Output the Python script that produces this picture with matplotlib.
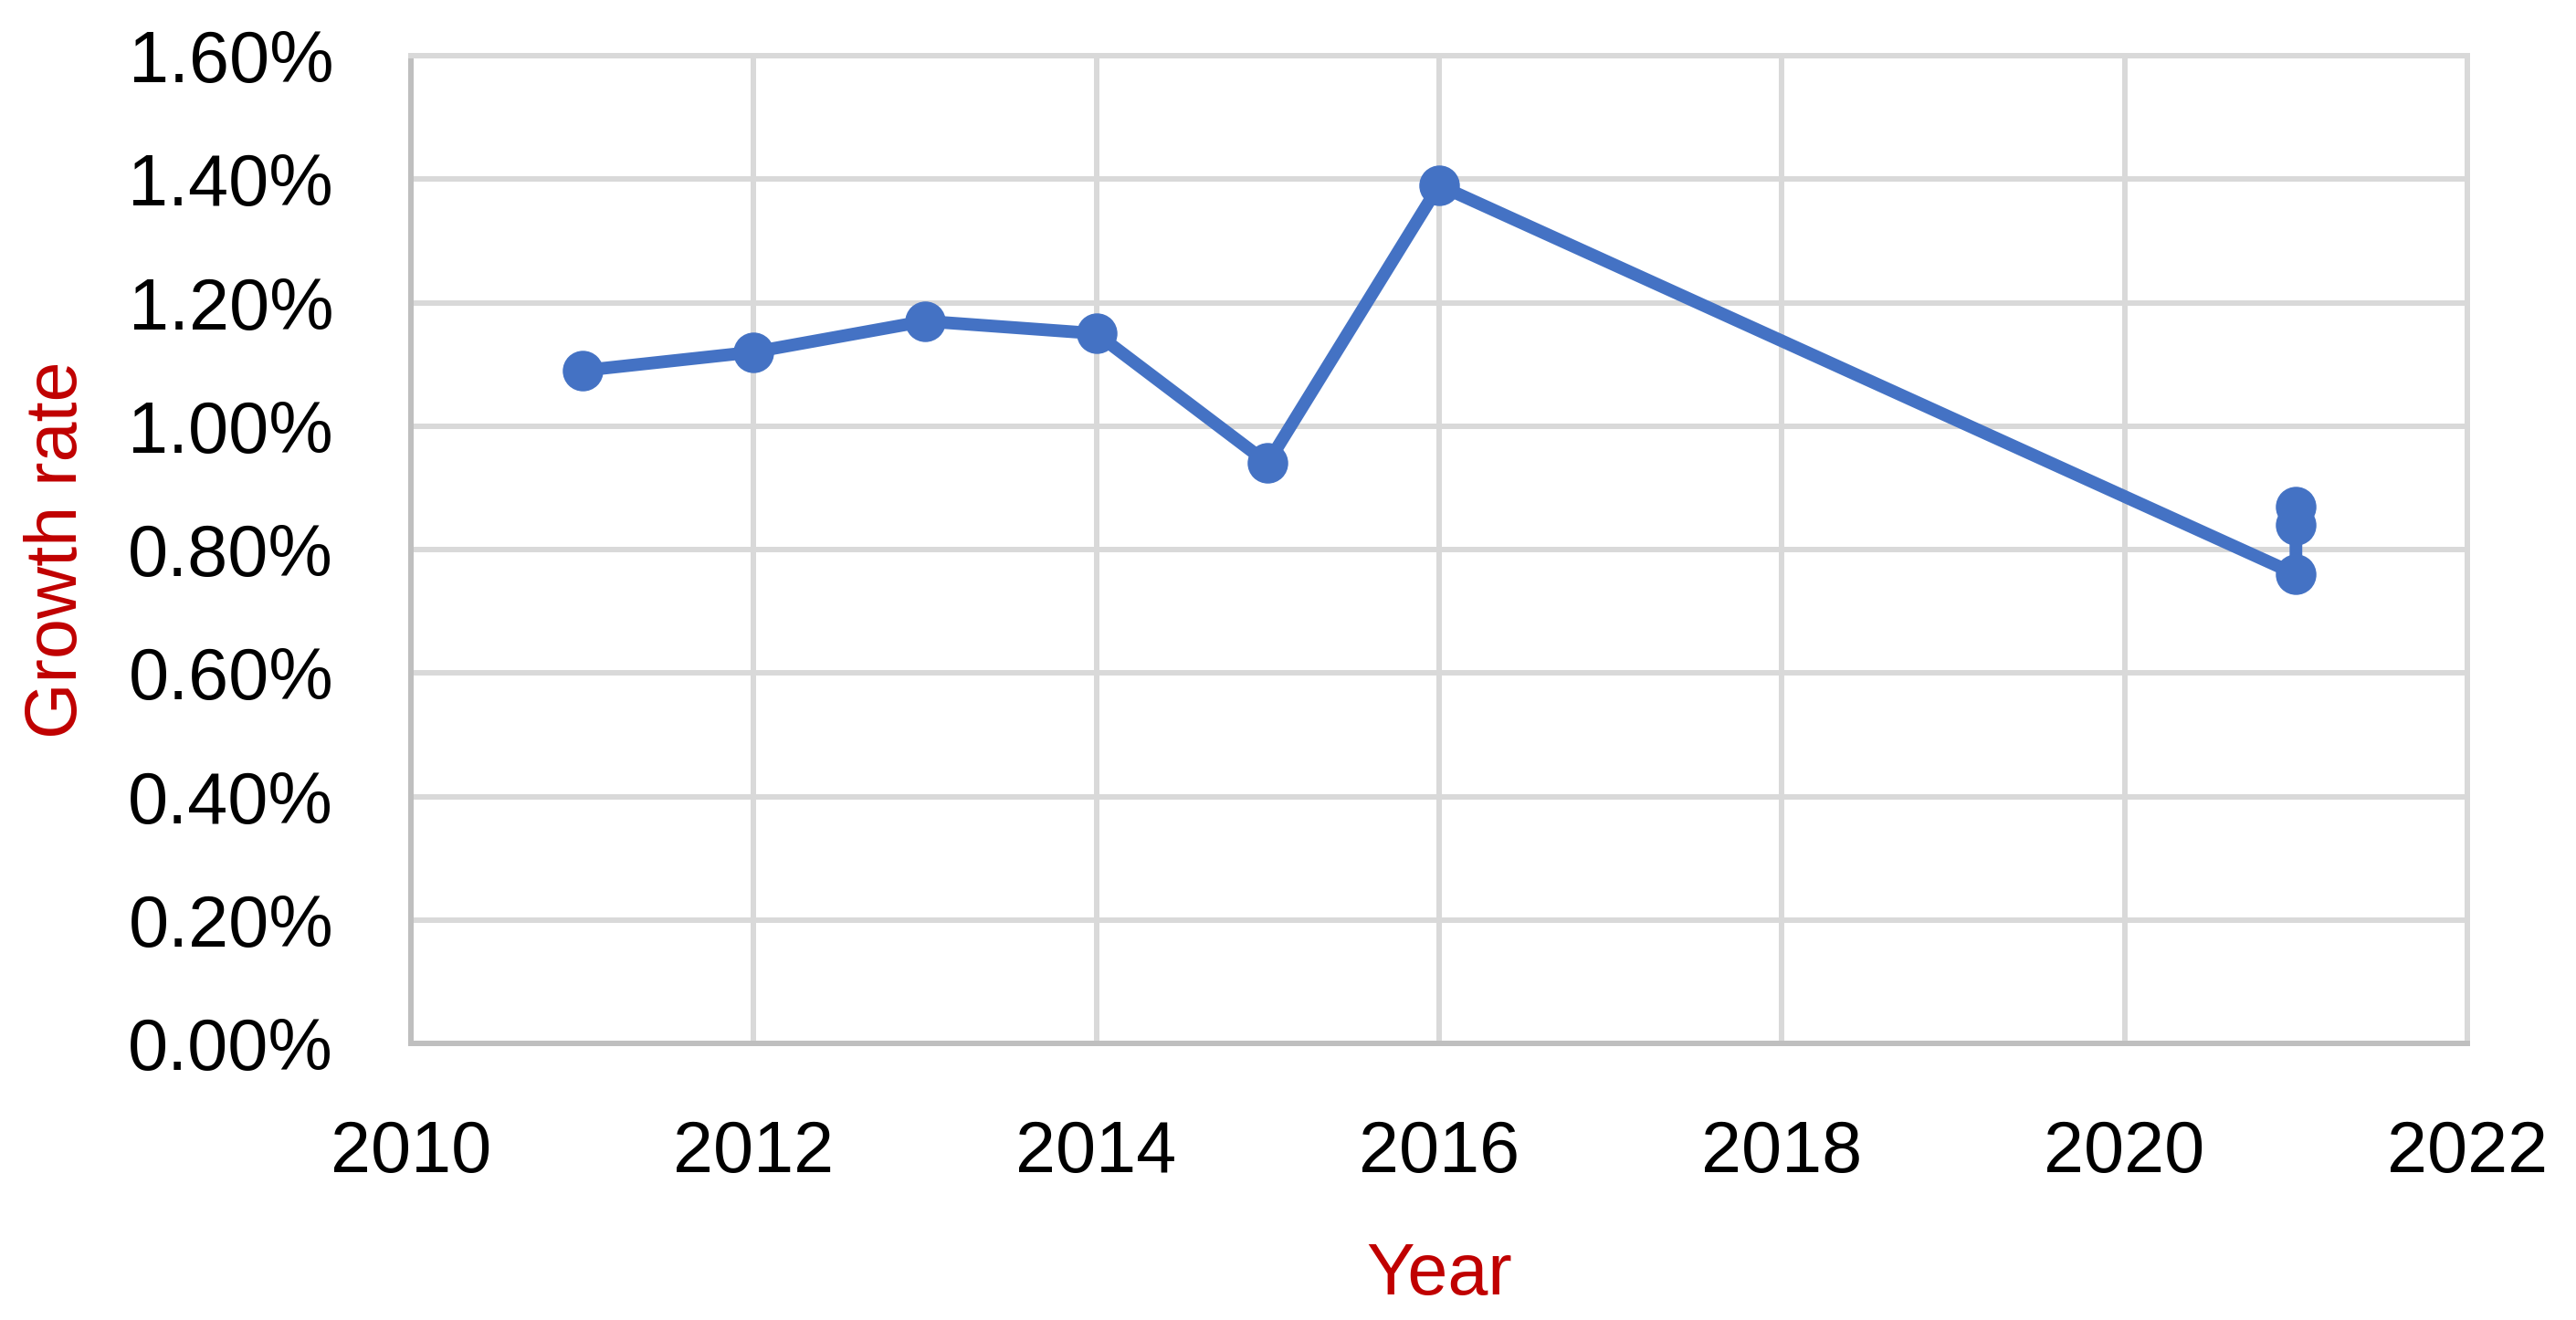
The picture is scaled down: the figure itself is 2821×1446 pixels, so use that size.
import matplotlib
matplotlib.use("Agg")
import matplotlib.pyplot as plt
from matplotlib.ticker import MultipleLocator, PercentFormatter

# values (growth rate in %)
years = [2011, 2012, 2013, 2014, 2015, 2016, 2021, 2021, 2021]
growth = [1.09, 1.12, 1.17, 1.15, 0.94, 1.39, 0.76, 0.84, 0.87]

x_ticks = [2010, 2012, 2014, 2016, 2018, 2020, 2022]

plt.rcParams['font.family'] = ['Liberation Sans', 'DejaVu Sans']

fig = plt.figure(figsize=(28.21, 14.46), dpi=100)
ax = fig.add_axes([0.1595, 0.2095, 0.7983, 0.7483])

ax.plot(years, growth, color='#4472C4', linewidth=10, marker='o',
        markersize=31, solid_joinstyle='round', zorder=3)

ax.set_xlim(2010, 2022)
ax.set_ylim(0, 1.6)
ax.set_xticks(x_ticks)
ax.yaxis.set_major_locator(MultipleLocator(0.2))
ax.yaxis.set_major_formatter(PercentFormatter(xmax=100, decimals=2))

# gridlines and frame like the spreadsheet chart
ax.grid(True, color='#d9d9d9', linewidth=4.3)
ax.set_axisbelow(True)
for side in ['top', 'right']:
    ax.spines[side].set_color('#d9d9d9')
    ax.spines[side].set_linewidth(4.3)
for side in ['left', 'bottom']:
    ax.spines[side].set_color('#bfbfbf')
    ax.spines[side].set_linewidth(4.3)

ax.tick_params(axis='both', length=0, labelsize=57, colors='black')
ax.tick_params(axis='y', pad=61)
ax.tick_params(axis='x', pad=60)

ax.set_xlabel('Year', fontsize=57, color='#C00000', labelpad=42)
ax.set_ylabel('Growth rate', fontsize=57, color='#C00000', labelpad=28)

plt.savefig('out.png', dpi=100)
